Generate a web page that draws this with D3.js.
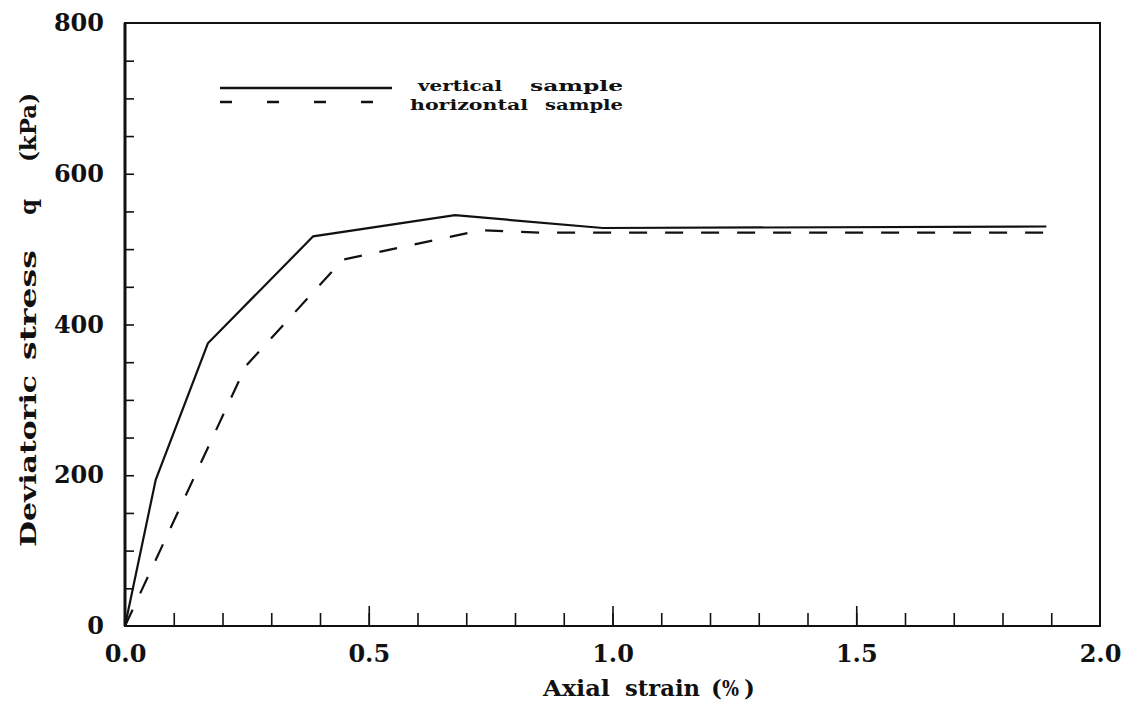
<!DOCTYPE html>
<html>
<head>
<meta charset="utf-8">
<script src="https://cdn.jsdelivr.net/npm/d3@7/dist/d3.min.js"></script>
<style>
  body { margin: 0; background: #fff; }
  text { font-family: "DejaVu Serif", serif; fill: #111; font-weight: bold; }
</style>
</head>
<body>
<script>
// vertical sample (solid)
const strainV = [0, 0.063, 0.17, 0.386, 0.677, 0.98, 1.89];
const stressV = [0, 194, 375, 517, 545, 528, 530];
// horizontal sample (dashed)
const strainH = [0, 0.248, 0.447, 0.73, 0.85, 1.89];
const stressH = [0, 345, 486, 525, 522, 522];

const xMajor = [0, 0.5, 1.0, 1.5, 2.0];
const xMinor = d3.range(1, 20).map(d => d / 10);
const yMajor = [0, 200, 400, 600, 800];
const yMinor = d3.range(50, 800, 50);
const legendLabels = ['vertical sample', 'horizontal sample'];
const xTitle = 'Axial strain ( % )';
const yTitle = 'Deviatoric stress q (kPa)';

const W = 1123, H = 706;
const x = d3.scaleLinear().domain([0, 2]).range([125, 1100]);
const y = d3.scaleLinear().domain([0, 800]).range([626, 23]);

const svg = d3.select('body').append('svg')
  .attr('width', W)
  .attr('height', H);

// frame
svg.append('rect')
  .attr('x', x(0)).attr('y', y(800))
  .attr('width', x(2) - x(0)).attr('height', y(0) - y(800))
  .attr('fill', 'none').attr('stroke', '#111').attr('stroke-width', 2);
svg.append('line')
  .attr('x1', x(0)).attr('x2', x(0)).attr('y1', y(800)).attr('y2', y(0))
  .attr('stroke', '#111').attr('stroke-width', 3);

// x ticks, pointing inward
svg.append('g')
  .attr('transform', `translate(0,${y(0)})`)
  .call(d3.axisBottom(x).tickValues(xMinor).tickSize(-13).tickFormat(''));
const xMajorAxis = svg.append('g')
  .attr('transform', `translate(0,${y(0)})`)
  .call(d3.axisBottom(x).tickValues(xMajor).tickSize(-20).tickPadding(36)
    .tickFormat(d3.format('.1f')));
xMajorAxis.selectAll('.tick line').filter(d => d === 0 || d === 2).remove();

// y ticks, pointing inward
svg.append('g')
  .attr('transform', `translate(${x(0)},0)`)
  .call(d3.axisLeft(y).tickValues(yMinor).tickSize(-9).tickFormat(''));
svg.append('g')
  .attr('transform', `translate(${x(0)},0)`)
  .call(d3.axisLeft(y).tickValues(yMajor).tickSize(0).tickPadding(21)
    .tickFormat(d3.format('d')));

svg.selectAll('.domain').remove();
svg.selectAll('.tick line').attr('stroke', '#111').attr('stroke-width', 1.6);
svg.selectAll('.tick text')
  .style('font-family', '"DejaVu Serif", serif')
  .style('font-size', '24px')
  .style('font-weight', 'bold')
  .attr('fill', '#111');
xMajorAxis.selectAll('.tick text').attr('dy', '0');

// curves
const line = d3.line().x(d => x(d[0])).y(d => y(d[1]));
svg.append('path')
  .datum(d3.zip(strainV, stressV))
  .attr('d', line)
  .attr('fill', 'none').attr('stroke', '#111').attr('stroke-width', 2.2);
svg.append('path')
  .datum(d3.zip(strainH, stressH))
  .attr('d', line)
  .attr('fill', 'none').attr('stroke', '#111').attr('stroke-width', 2.2)
  .attr('stroke-dasharray', '18,18');

// words laid out one by one, each stretched over its own span (wide plotter lettering)
const words = (g, str, spans, size, place) => {
  str.split(' ').forEach((w, i) => {
    const [a, b] = spans[i];
    const t = g.append('text')
      .attr('transform', place(a))
      .style('font-size', size + 'px')
      .text(w);
    if (b !== undefined) t.attr('textLength', Math.abs(b - a)).attr('lengthAdjust', 'spacingAndGlyphs');
  });
};

// legend
const lg = svg.append('g');
lg.append('line')
  .attr('x1', 220).attr('x2', 392).attr('y1', 88).attr('y2', 88)
  .attr('stroke', '#111').attr('stroke-width', 2.4);
lg.append('line')
  .attr('x1', 220).attr('x2', 374).attr('y1', 102).attr('y2', 102)
  .attr('stroke', '#111').attr('stroke-width', 2.4)
  .attr('stroke-dasharray', '12,35');
words(lg, legendLabels[0], [[418, 502], [530, 623]], 15, a => `translate(${a},91)`);
words(lg, legendLabels[1], [[410, 528], [545, 623]], 15, a => `translate(${a},110)`);

// axis titles
words(svg, xTitle, [[543, 610], [625, 700], [711], [722, 739], [744]], 23,
  a => `translate(${a},696)`);
words(svg, yTitle, [[547, 375], [360, 250], [215], [162, 93]], 23,
  a => `translate(36,${a}) rotate(-90)`);
</script>
</body>
</html>
